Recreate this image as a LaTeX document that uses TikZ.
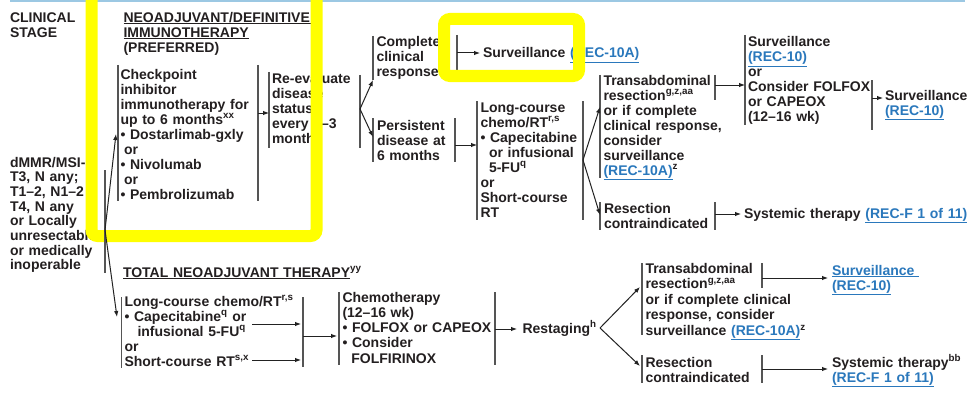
\documentclass[tikz,border=0pt]{standalone}
\usepackage{fontspec}
\setmainfont{Liberation Sans}
\usetikzlibrary{arrows.meta}
\definecolor{textgray}{HTML}{231F20}
\definecolor{bargray}{HTML}{555555}
\definecolor{arrowgray}{HTML}{222222}
\definecolor{linkblue}{HTML}{2A78BC}
\definecolor{hlyellow}{HTML}{FFFF00}
\definecolor{topblue}{HTML}{9CC8E3}
\newcommand\myul[1]{\setbox0=\hbox{#1}\leavevmode\rlap{\rule[\dimexpr-\dp0-1.7pt\relax]{\wd0}{1.1pt}}\box0}
\newcommand\lnk[1]{\textcolor{linkblue}{\myul{#1}}}
\newcommand\sps[1]{\textsuperscript{#1}}
\tikzset{
  txt/.style={anchor=base west, inner sep=0pt, outer sep=0pt, text width=320pt, align=left,
    font=\bfseries\fontsize{14}{15}\selectfont, text=textgray},
  txtb/.style={txt, font=\bfseries\fontsize{14}{14.7}\selectfont},
  txtc/.style={txt, font=\bfseries\fontsize{14}{15.3}\selectfont},
  txtd/.style={txt, font=\bfseries\fontsize{14}{15.6}\selectfont},
  bar/.style={draw=bargray, line width=1.3pt},
  arr/.style={draw=arrowgray, line width=1pt, -{Latex[length=6pt,width=4.5pt]}},
  hl/.style={draw=hlyellow, line width=12pt, rounded corners=6pt},
}
\begin{document}
\begin{tikzpicture}[x=1pt,y=-1pt]
\useasboundingbox (0,0) rectangle (969,420);
\fill[white] (0,0) rectangle (969,420);
\draw[topblue, line width=1.5pt] (10,1) -- (965,1);

% ---------- text nodes ----------
\node[txt] (clin) at (10,22.5) {CLINICAL\\STAGE};
\node[txt] (neo) at (123.5,22.5) {\myul{NEOADJUVANT/DEFINITIVE\ }\\\myul{IMMUNOTHERAPY}\\(PREFERRED)};
\node[txt] (chk) at (120.5,79) {Checkpoint\\inhibitor\\immunotherapy for\\up to 6 months\sps{xx}\\• Dostarlimab-gxly\\\hspace*{3.5pt}or\\• Nivolumab\\\hspace*{3.5pt}or\\• Pembrolizumab};
\node[txt] (reev) at (272,83) {Re-evaluate\\disease\\status\\every 2–3\\months};
\node[txt] (ccr) at (376.5,47) {Complete\\clinical\\response};
\node[txt] (surv1) at (483,58) {Surveillance \lnk{(REC-10A)}};
\node[txt] (pers) at (377,130) {Persistent\\disease at\\6 months};
\node[txt] (lc1) at (480.5,112) {Long-course\\chemo/RT\sps{r,s}\\• Capecitabine\\\hspace*{8.5pt}or infusional\\\hspace*{8.5pt}5-FU\sps{q}\\or\\Short-course\\RT};
\node[txt] (tr1) at (603.5,85) {Transabdominal\\resection\sps{g,z,aa}\\or if complete\\clinical response,\\consider\\surveillance\\\lnk{(REC-10A)}\sps{z}};
\node[txt] (sv2) at (748,47) {Surveillance\\\lnk{(REC-10)}\\or\\Consider FOLFOX\\or CAPEOX\\(12–16 wk)};
\node[txt] (sv3) at (885,100) {Surveillance\\\lnk{(REC-10)}};
\node[txt] (rc1) at (604,213) {Resection\\contraindicated};
\node[txt] (sys1) at (744,218) {Systemic therapy \lnk{(REC-F 1 of 11)}};
\node[txtb] (stage) at (10,167) {dMMR/MSI-H\\T3, N any;\\T1–2, N1–2\\T4, N any\\or Locally\\unresectable\\or medically\\inoperable};
\node[txt] (tnt) at (123,277) {\myul{TOTAL NEOADJUVANT THERAPY}\sps{yy}};
\node[txt] (lc2) at (124.5,306) {Long-course chemo/RT\sps{r,s}\\• Capecitabine\sps{q} or\\\hspace*{13pt}infusional 5-FU\sps{q}\\or\\Short-course RT\sps{s,x}};
\node[txtc] (chemo) at (342.5,302) {Chemotherapy\\(12–16 wk)\\• FOLFOX or CAPEOX\\• Consider\\\hspace*{8.8pt}FOLFIRINOX};
\node[txt] (rest) at (522.5,333) {Restaging\sps{h}};
\node[txtd] (tr2) at (645.5,273) {Transabdominal\\resection\sps{g,z,aa}\\or if complete clinical\\response, consider\\surveillance \lnk{(REC-10A)}\sps{z}};
\node[txtd] (sv4) at (832,275) {\lnk{Surveillance\ }\\\lnk{(REC-10)}};
\node[txt] (rc2) at (645.5,367) {Resection\\contraindicated};
\node[txt] (sys2) at (832,367) {Systemic therapy\sps{bb}\\\lnk{(REC-F 1 of 11)}};

% ---------- bars ----------
\draw[bar] (118,65) -- (118,201);
\draw[bar] (258,65) -- (258,201);
\draw[bar] (269,72) -- (269,148);
\draw[bar] (360,75) -- (360,148);
\draw[bar] (373,36) -- (373,80);
\draw[bar] (457,35) -- (457,70);
\draw[bar] (373,118) -- (373,162);
\draw[bar] (455,118) -- (455,162);
\draw[bar] (477,101) -- (477,220);
\draw[bar] (583,101) -- (583,220);
\draw[bar] (600,75) -- (600,178);
\draw[bar] (715,75) -- (715,100);
\draw[bar] (745,35) -- (745,125);
\draw[bar] (872,80) -- (872,130);
\draw[bar] (600,202) -- (600,230);
\draw[bar] (715,202) -- (715,230);
\draw[bar] (121.5,297) -- (121.5,368);
\draw[bar] (303,297) -- (303,367);
\draw[bar] (339,292) -- (339,365);
\draw[bar] (495,292) -- (495,365);
\draw[bar] (642,263) -- (642,335);
\draw[bar] (762,263) -- (762,288);
\draw[bar] (642,355) -- (642,383);
\draw[bar] (762,355) -- (762,383);

% ---------- connector coordinates ----------
\coordinate (stF) at (105,230);
\coordinate (chkL) at (116,134);
\coordinate (lc2L) at (117,317);
\coordinate (chkR) at (258,113);
\coordinate (reevL) at (269,113);
\coordinate (reevF) at (360,109);
\coordinate (ccrL) at (373,80);
\coordinate (persL) at (373,137);
\coordinate (ccrR) at (457,53);
\coordinate (surv1L) at (480,53);
\coordinate (persR) at (455,145);
\coordinate (lc1L) at (477,145);
\coordinate (lc1F) at (583,160);
\coordinate (tr1L) at (600,107);
\coordinate (rc1L) at (600,215);
\coordinate (tr1R) at (715,85);
\coordinate (sv2L) at (745,85);
\coordinate (sv2R) at (872,98);
\coordinate (sv3L) at (883,98);
\coordinate (rc1R) at (715,214);
\coordinate (sys1L) at (741,214);
\coordinate (capE) at (252,324);
\coordinate (capR) at (301,324);
\coordinate (scE) at (252,360);
\coordinate (scR) at (301,360);
\coordinate (lc2R) at (303,336);
\coordinate (chemoL) at (337,336);
\coordinate (chemoR) at (495,329);
\coordinate (restL) at (517,329);
\coordinate (restF) at (600,328);
\coordinate (tr2L) at (640,287);
\coordinate (rc2L) at (640,366);
\coordinate (tr2R) at (762,278);
\coordinate (sv4L) at (828,278);
\coordinate (rc2R) at (762,369);
\coordinate (sys2L) at (828,369);

% ---------- connectors ----------
\draw[arr] (chkR) -- (reevL);
\draw[arr] (reevF) -- (ccrL);
\draw[arr] (reevF) -- (persL);
\draw[arr] (ccrR) -- (surv1L);
\draw[arr] (persR) -- (lc1L);
\draw[arr] (lc1F) -- (tr1L);
\draw[arr] (lc1F) -- (rc1L);
\draw[arr] (tr1R) -- (sv2L);
\draw[arr] (sv2R) -- (sv3L);
\draw[arr] (rc1R) -- (sys1L);
\draw[arr] (capE) -- (capR);
\draw[arr] (scE) -- (scR);
\draw[arr] (lc2R) -- (chemoL);
\draw[arr] (chemoR) -- (restL);
\draw[arr] (restF) -- (tr2L);
\draw[arr] (restF) -- (rc2L);
\draw[arr] (tr2R) -- (sv4L);
\draw[arr] (rc2R) -- (sys2L);

% ---------- highlight boxes ----------
\draw[hl] (91.5,-30) rectangle (316.5,236);
\draw[hl] (444,19) rectangle (579,76);

% ---------- stage bar and fork (drawn over the highlight) ----------
\draw[bar] (105,170) -- (105,273);
\draw[arr] (stF) -- (chkL);
\draw[arr] (stF) -- (lc2L);
\end{tikzpicture}
\end{document}
